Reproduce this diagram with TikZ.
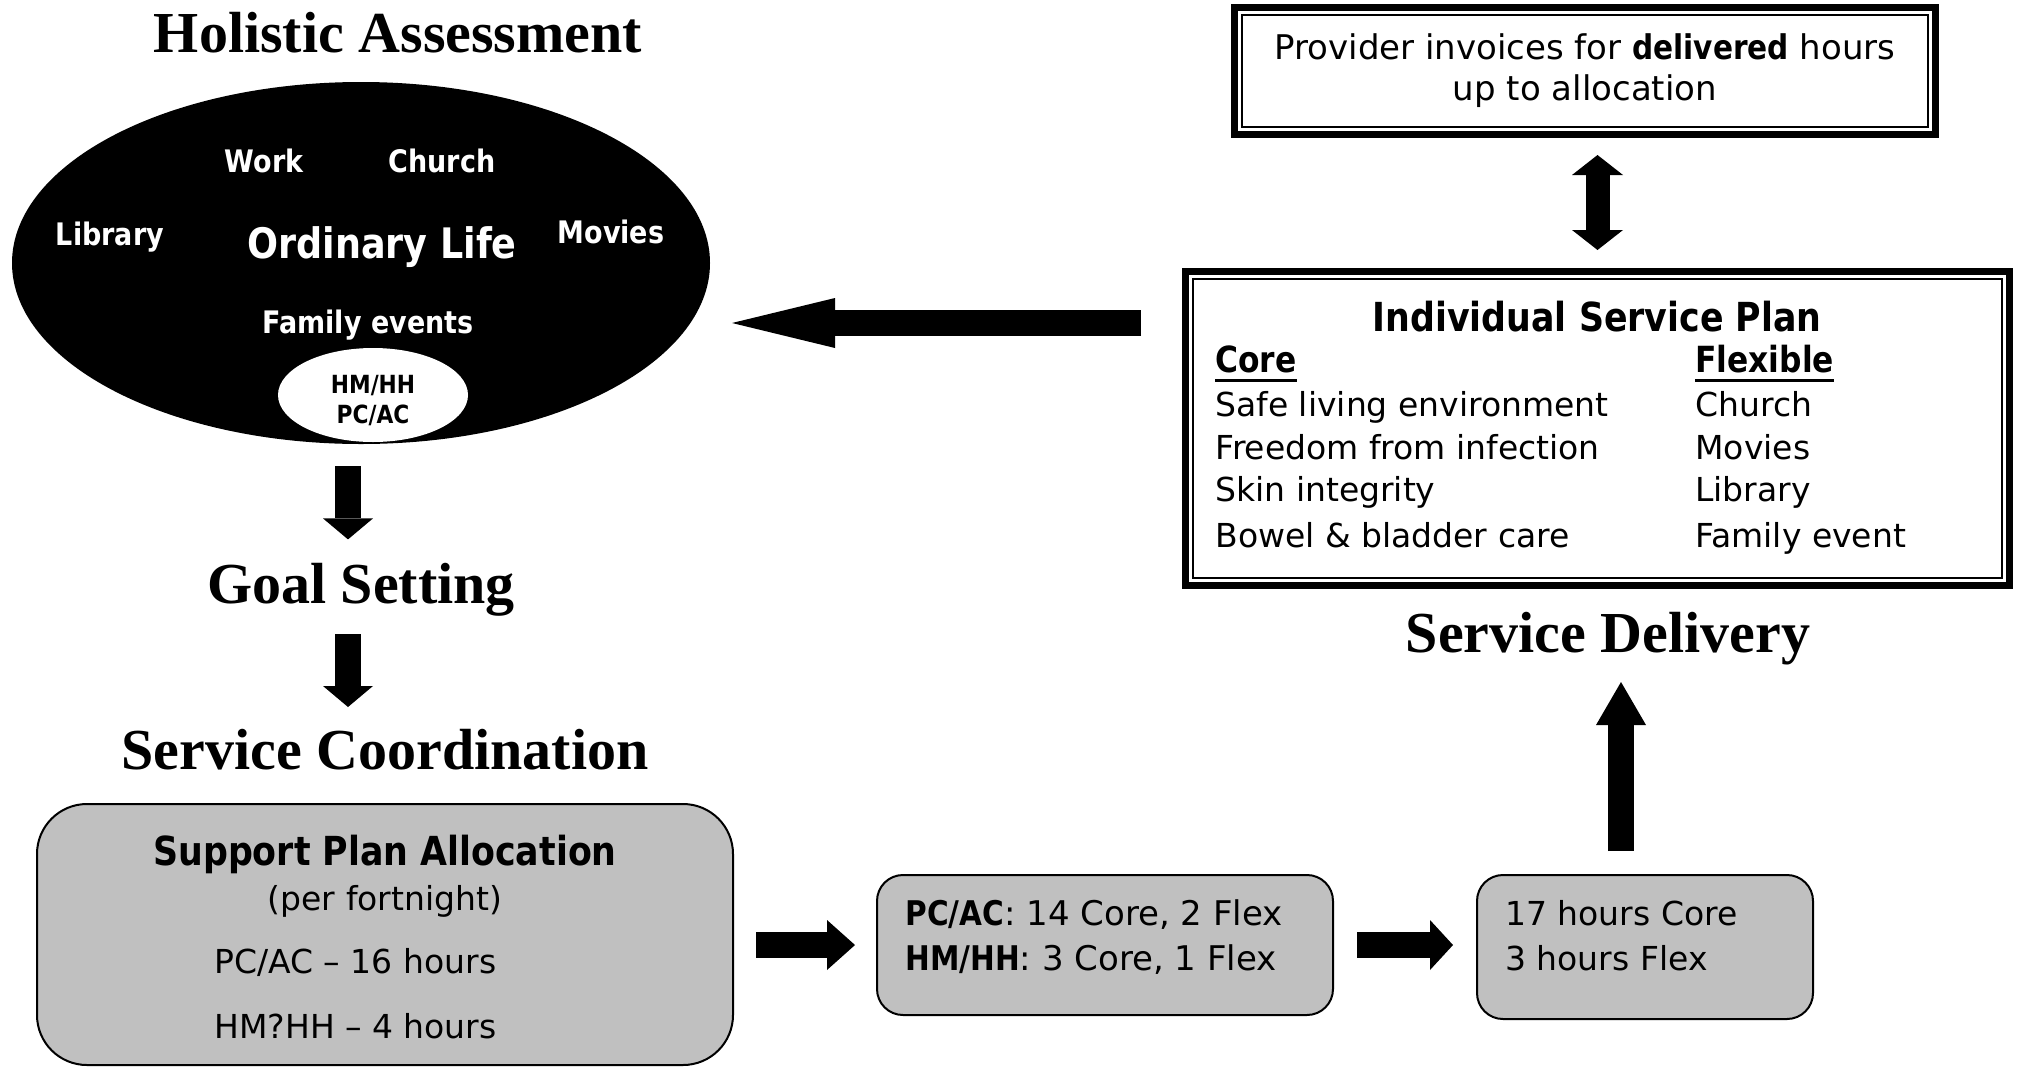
\documentclass[tikz,border=0pt]{standalone}
\usepackage{fontspec}
\setmainfont{DejaVu Sans}[BoldFeatures={FakeStretch=0.87}]
\newfontfamily\headfont{Liberation Serif}
\usetikzlibrary{shapes.geometric,arrows.meta,positioning}
\definecolor{boxgrey}{RGB}{192,192,192}
\newcommand{\thickul}[1]{\setbox0\hbox{#1}\rlap{\rule[-4.75pt]{\wd0}{1.5pt}}\box0}
\tikzset{
  heading/.style = {font=\headfont\bfseries\fontsize{29}{34}\selectfont,
    inner sep=0pt},
  lifetext/.style = {text=white, font=\bfseries\fontsize{15.5}{18}\selectfont,
    inner sep=0pt},% labels in the black oval
  bodytext/.style = {font=\fontsize{16.5}{20}\selectfont, inner sep=0pt},
  boldtext/.style = {font=\bfseries\fontsize{20}{24}\selectfont, inner sep=0pt},
  greybox/.style = {draw=black, line width=1pt, fill=boxgrey,
    rounded corners=13pt},
  planbox/.style = {draw=black, line width=1pt, fill=white},
  outerframe/.style = {draw=black, line width=3.5pt},
  fatarrow/.style = {line width=13pt,
    -{Triangle[length=#1, width=25pt, line width=0pt]}},
  fatarrow/.default = 10.5pt
}
\begin{document}
\begin{tikzpicture}[x=0.5pt, y=-0.5pt]
\useasboundingbox (0,0) rectangle (2017,1066);

% assessment
\node[heading, anchor=base] (hatitle) at (398,52) {Holistic Assessment};
\node[ellipse, fill=black, minimum width=349pt, minimum height=181pt,
  inner sep=0pt] (life) at (361,263) {};
\node[lifetext, anchor=base] (work) at (264,172) {Work};
\node[lifetext, anchor=base] (church) at (442,172) {Church};
\node[lifetext, anchor=base] (library) at (110,245) {Library};
\node[lifetext, anchor=base, font=\bfseries\fontsize{21}{24}\selectfont]
  (ordinary) at (382,258) {Ordinary Life};
\node[lifetext, anchor=base] (movies) at (611,243) {Movies};
\node[lifetext, anchor=base] (family) at (368,333) {Family events};
\node[ellipse, fill=white, minimum width=95pt, minimum height=47pt,
  inner sep=0pt] (aid) at (373,395) {};
\node[anchor=base, inner sep=0pt, font=\bfseries\fontsize{12.5}{14}\selectfont]
  (aidhm) at (373,393) {HM/HH};
\node[anchor=base, inner sep=0pt, font=\bfseries\fontsize{12.5}{14}\selectfont]
  (aidpc) at (373,423) {PC/AC};

% goals and coordination
\node[heading, anchor=base] (goal) at (361,603) {Goal Setting};
\node[heading, anchor=base] (coord) at (385,769) {Service Coordination};
\draw[fatarrow] ([xshift=-6.5pt,yshift=-11pt]life.south) -- ++(0,73);
\draw[fatarrow] ([xshift=-6.5pt,yshift=-15.5pt]goal.base) -- ++(0,73);

\node[greybox, rounded corners=25pt, minimum width=348pt,
  minimum height=130.5pt] (alloc) at (385,934.5) {};
\node[boldtext, anchor=base] (allochead) at (385,865) {Support Plan Allocation};
\node[bodytext, anchor=base] (fortnight) at (385,910) {(per fortnight)};
\node[bodytext, anchor=base west] (pchours) at (214,973) {PC/AC -- 16 hours};
\node[bodytext, anchor=base west] (hmhours) at (214,1038) {HM?HH -- 4 hours};

\node[greybox, minimum width=228pt, minimum height=70pt] (split) at (1105,945) {};
\node[bodytext, anchor=base west, font=\fontsize{17}{20}\selectfont] (splitpc)
  at (905,925) {\textbf{PC/AC}: 14 Core, 2 Flex};
\node[bodytext, anchor=base west, font=\fontsize{17}{20}\selectfont] (splithm)
  at (905,970) {\textbf{HM/HH}: 3 Core, 1 Flex};

\node[greybox, minimum width=168pt, minimum height=72pt] (total) at (1645,947) {};
\node[bodytext, anchor=base west] (totalcore) at (1505,925) {17 hours Core};
\node[bodytext, anchor=base west] (totalflex) at (1505,970) {3 hours Flex};

\draw[fatarrow=14pt] ([xshift=11pt]alloc.east |- split.west)
  -- ([xshift=-10.5pt]split.west);
\draw[fatarrow=11.5pt] ([xshift=11.5pt]split.east)
  -- ([xshift=-11.5pt]total.west |- split.east);

% delivery
\node[heading, anchor=base] (deliv) at (1608,652) {Service Delivery};
\draw[fatarrow=21.5pt] ([xshift=-12pt,yshift=11.5pt]total.north) -- ++(0,-169);

\node[planbox, minimum width=404.5pt, minimum height=149.5pt] (isp)
  at (1597.5,428.5) {};
\draw[outerframe] ([shift={(-3.25pt,3.25pt)}]isp.north west)
  rectangle ([shift={(3.25pt,-3.25pt)}]isp.south east);
\node[boldtext, anchor=base] (isptitle) at (1597,331) {Individual Service Plan};
\node[anchor=base west, inner sep=0pt, font=\bfseries\fontsize{18}{20}\selectfont]
  (corehead) at (1215,372) {\thickul{Core}};
\node[anchor=base west, inner sep=0pt, font=\bfseries\fontsize{18}{20}\selectfont]
  (flexhead) at (1695,372) {\thickul{Flexible}};
\foreach \txt/\yy [count=\i] in {Safe living environment/416,
  Freedom from infection/459, Skin integrity/501, Bowel \& bladder care/547}
  \node[bodytext, anchor=base west] (core\i) at (1215,\yy) {\txt};
\foreach \txt/\yy [count=\i] in {Church/416, Movies/459, Library/501,
  Family event/547}
  \node[bodytext, anchor=base west] (flex\i) at (1695,\yy) {\txt};

\node[planbox, minimum width=343pt, minimum height=56pt, align=center,
  font=\fontsize{17}{20.5}\selectfont] (invoice) at (1585,71)
  {Provider invoices for \textbf{delivered} hours\\up to allocation};
\draw[outerframe] ([shift={(-3.25pt,3.25pt)}]invoice.north west)
  rectangle ([shift={(3.25pt,-3.25pt)}]invoice.south east);

\draw[line width=12pt,
  {Triangle[length=10pt, width=25.5pt, line width=0pt]}-{Triangle[length=10pt, width=25.5pt, line width=0pt]}]
  ([yshift=-13.5pt]isp.north |- invoice.south) -- ([yshift=14pt]isp.north);
\draw[fatarrow=51.5pt] ([xshift=-25.5pt,yshift=52.75pt]isp.west) -- ++(-409,0);
\end{tikzpicture}
\end{document}
